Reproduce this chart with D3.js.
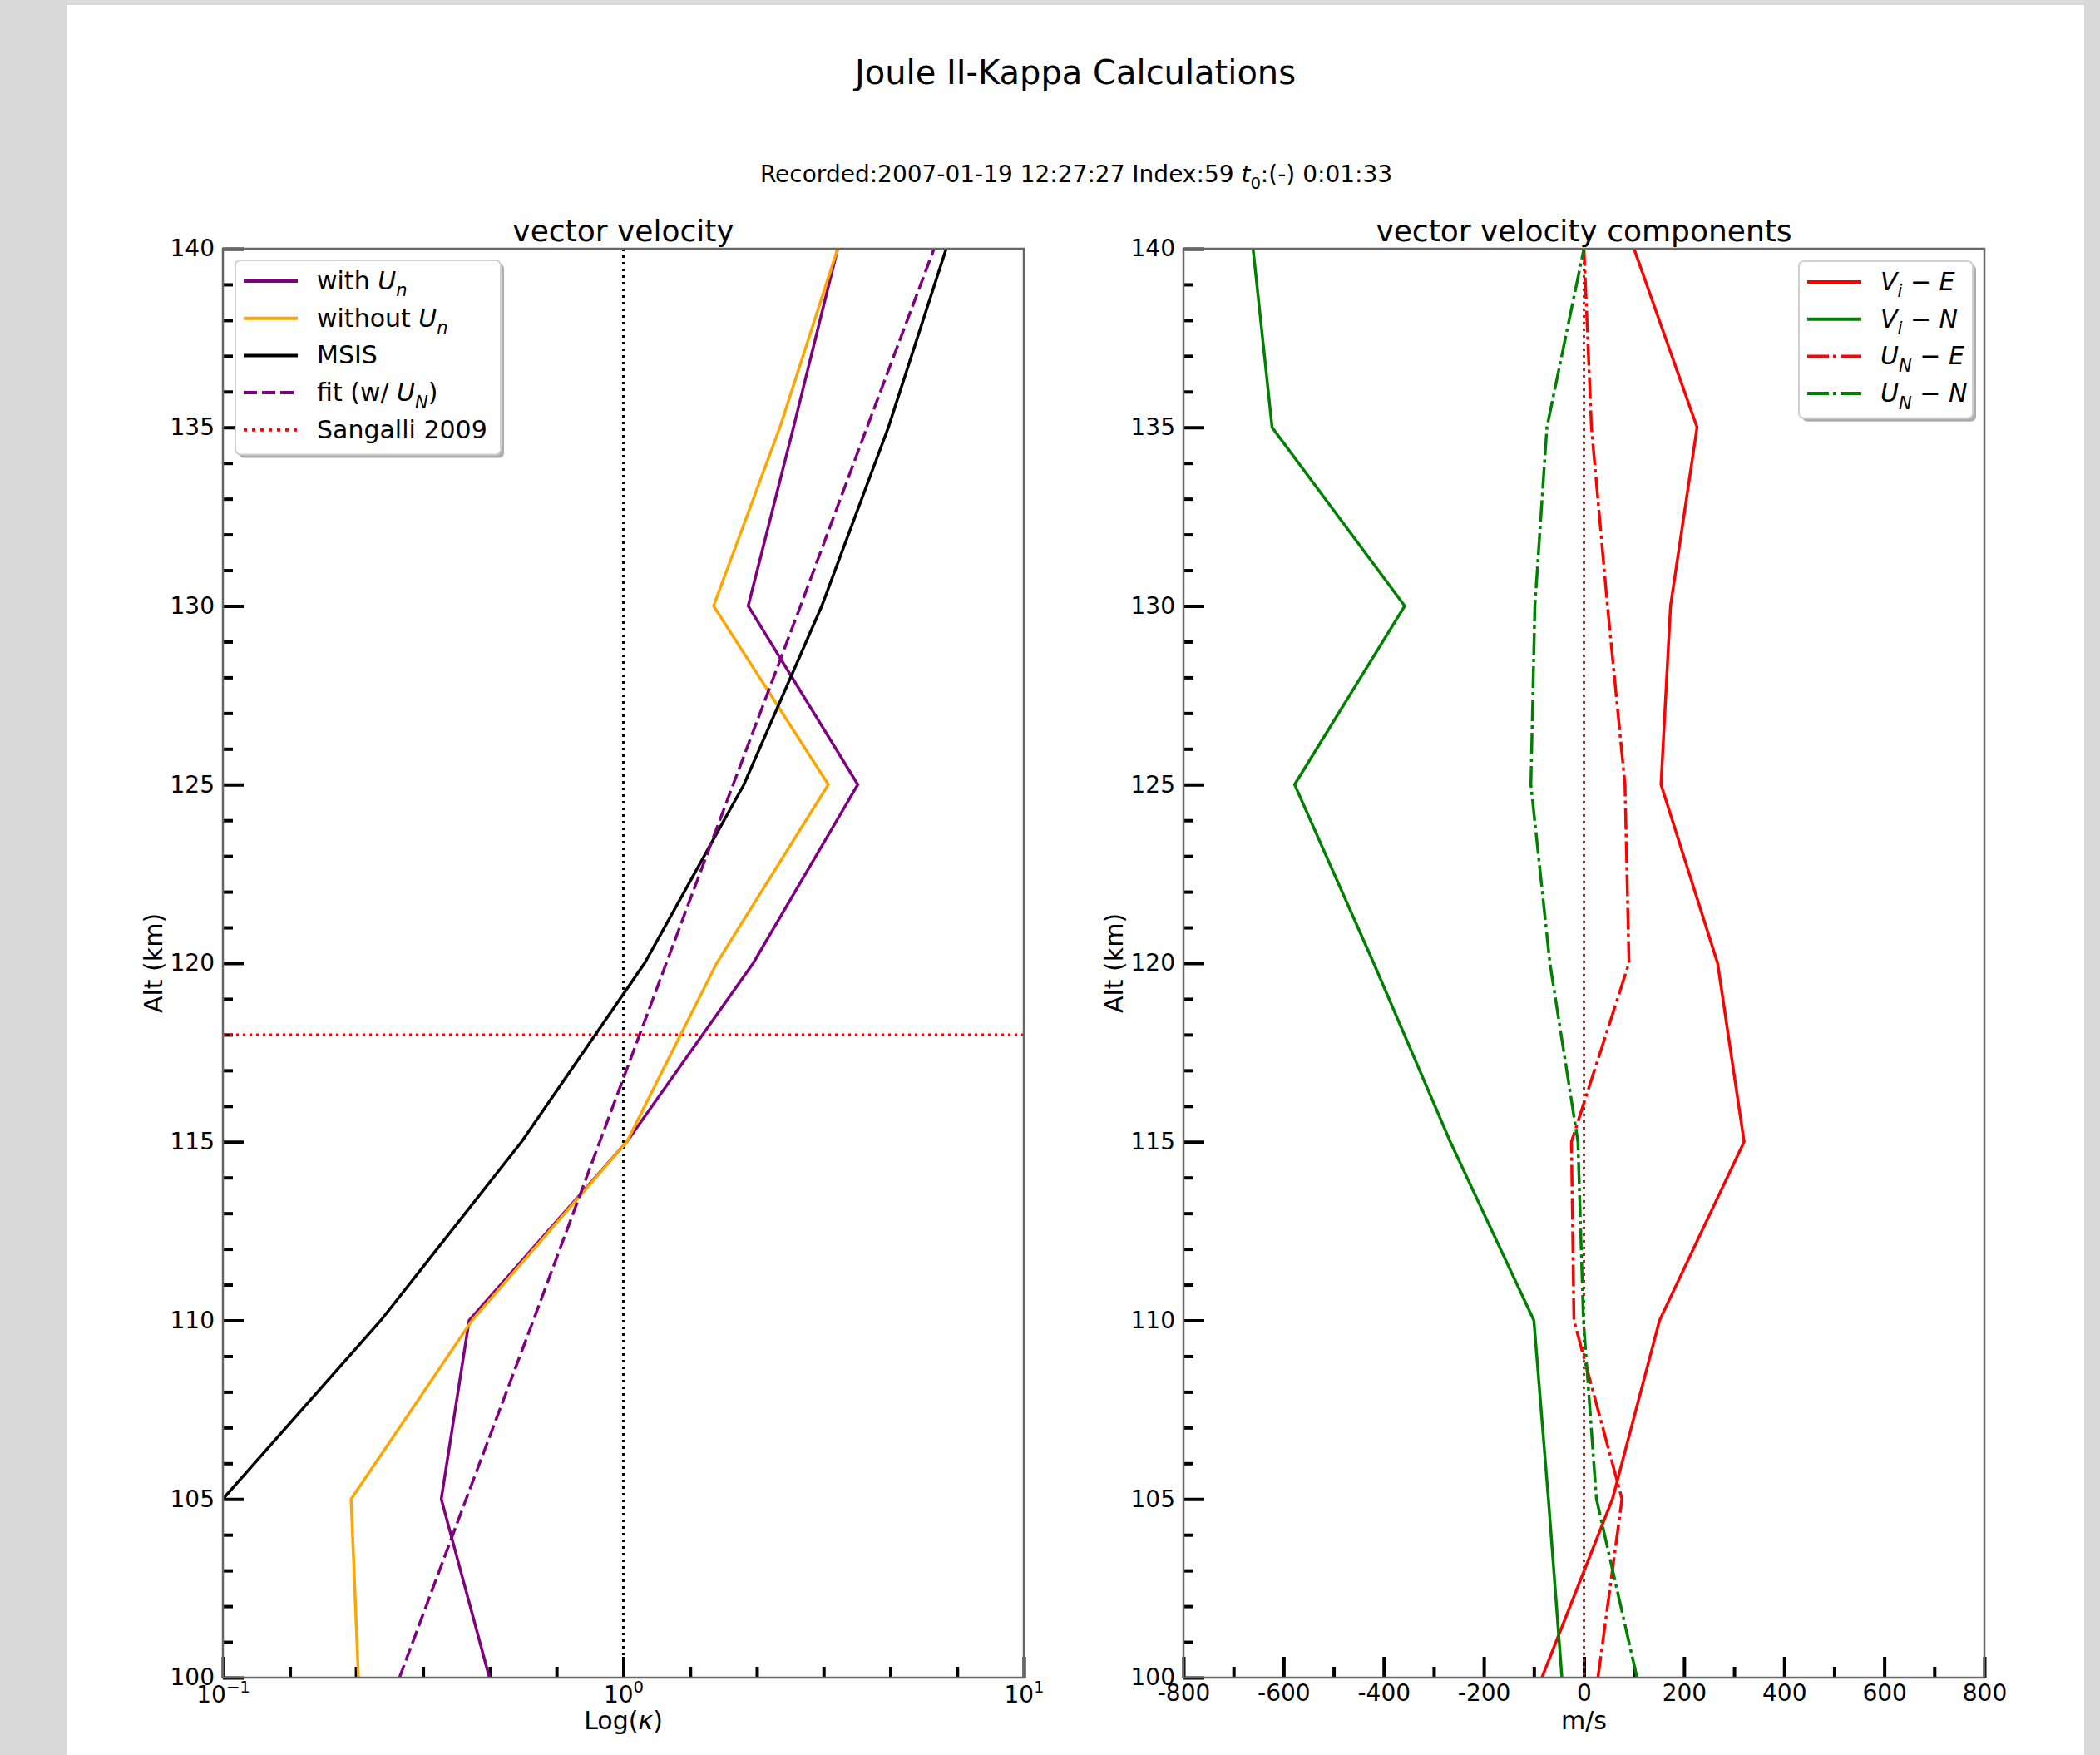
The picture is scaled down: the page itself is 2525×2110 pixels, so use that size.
<!DOCTYPE html>
<html>
<head>
<meta charset="utf-8">
<script src="https://cdn.jsdelivr.net/npm/d3@7"></script>
<style>
body { margin: 0; background: #d9d9d9; }
text { font-family: "DejaVu Sans", sans-serif; fill: #000; }
</style>
</head>
<body>
<svg id="fig" width="2525" height="2110"></svg>
<script>
// altitudes (km) for every profile
var alt = [100, 105, 110, 115, 120, 125, 130, 135, 140];

// left panel: kappa profiles
var kappaWithUn    = [0.463, 0.351, 0.412, 1.02, 2.11, 3.85, 2.05, 2.66, 3.43];
var kappaWithoutUn = [0.218, 0.209, 0.419, 1.02, 1.71, 3.25, 1.68, 2.46, 3.43];
var kappaMsis      = [0.04, 0.100, 0.248, 0.557, 1.13, 2.00, 3.13, 4.59, 6.40];
var kappaFit       = [0.276, 0.405, 0.596, 0.873, 1.28, 1.88, 2.77, 4.06, 5.97];
var sangalliAlt = 118;
var kappaRef = 1;

// right panel: velocity components (m/s)
var viE = [-84, 57, 151, 320, 267, 154, 173, 226, 100];
var viN = [-44, -71, -100, -267, -420, -578, -358, -623, -661];
var unE = [28, 76, -20, -25, 90, 82, 47, 15, 0];
var unN = [106, 25, -1, -12, -68, -106, -98, -74, 0];

// ticks
var altMajor = [100, 105, 110, 115, 120, 125, 130, 135, 140];
var altMinor = d3.range(100, 141).filter(function(d) { return d % 5 != 0; });
var kMajor = [0.1, 1, 10];
var kMajorLabels = [["10", "\u22121"], ["10", "0"], ["10", "1"]];
var kMinor = [0.147, 0.215, 0.316, 0.464, 0.681, 1.468, 2.154, 3.162, 4.642, 6.813];
var vMajor = [-800, -600, -400, -200, 0, 200, 400, 600, 800];
var vMinor = [-700, -500, -300, -100, 100, 300, 500, 700];

var svg = d3.select("#fig");

// write text made of plain / italic / sub / sup parts
function richText(sel, parts, size) {
  var shift = 0;
  parts.forEach(function(p) {
    var ts = sel.append("tspan").text(p.t);
    if (p.i) ts.attr("font-style", "italic");
    var target = p.sub ? size * 0.28 : (p.sup ? -size * 0.42 : 0);
    if (target != shift) { ts.attr("dy", target - shift); shift = target; }
    if (p.sub || p.sup) ts.attr("font-size", size * 0.7);
  });
}

// figure background
svg.append("rect")
  .attr("x", 80).attr("y", 6)
  .attr("width", 2426).attr("height", 2104)
  .attr("fill", "#fff");

svg.append("text")
  .attr("x", 1293).attr("y", 101)
  .attr("text-anchor", "middle")
  .attr("font-size", 40)
  .text("Joule II-Kappa Calculations");

var sub = svg.append("text")
  .attr("x", 1294).attr("y", 219)
  .attr("text-anchor", "middle")
  .attr("font-size", 28);
richText(sub, [{t: "Recorded:2007-01-19 12:27:27 Index:59 "}, {t: "t", i: 1}, {t: "0", sub: 1}, {t: ":(-) 0:01:33"}], 28);

var plotTop = 299, plotBot = 2017;
var y = d3.scaleLinear().domain([100, 140]).range([plotBot, plotTop]);

function panel(id, x0, x1, title) {
  var g = svg.append("g");
  g.append("clipPath").attr("id", "clip" + id)
    .append("rect").attr("x", x0).attr("y", plotTop)
    .attr("width", x1 - x0).attr("height", plotBot - plotTop);

  // y ticks (inward)
  var yMaj = g.append("g").attr("transform", "translate(" + x0 + ",0)")
    .call(d3.axisLeft(y).tickValues(altMajor).tickSizeInner(-25).tickSizeOuter(0).tickPadding(10).tickFormat(d3.format("d")));
  var yMin = g.append("g").attr("transform", "translate(" + x0 + ",0)")
    .call(d3.axisLeft(y).tickValues(altMinor).tickSizeInner(-12).tickSizeOuter(0).tickFormat(""));
  [yMaj, yMin].forEach(function(a) {
    a.select(".domain").remove();
    a.selectAll("line").attr("stroke", "#000").attr("stroke-width", 4);
    a.selectAll("text").attr("font-size", 28).attr("font-family", "DejaVu Sans").attr("fill", "#000");
  });

  g.append("text")
    .attr("transform", "translate(" + (x0 - 73) + "," + ((plotTop + plotBot) / 2) + ") rotate(-90)")
    .attr("text-anchor", "middle")
    .attr("font-size", 30)
    .text("Alt (km)");

  var t = g.append("text")
    .attr("x", (x0 + x1) / 2).attr("y", 2079)
    .attr("text-anchor", "middle")
    .attr("font-size", 30);

  g.append("text")
    .attr("x", (x0 + x1) / 2).attr("y", 290)
    .attr("text-anchor", "middle")
    .attr("font-size", 36)
    .text(title);

  return {g: g, xlabel: t, clip: "url(#clip" + id + ")"};
}

function spines(g, x0, x1) {
  g.append("rect")
    .attr("x", x0).attr("y", plotTop)
    .attr("width", x1 - x0).attr("height", plotBot - plotTop)
    .attr("fill", "none")
    .attr("stroke", "#666")
    .attr("stroke-width", 2.5);
}

function xTicks(g, x, major, minor, fmt) {
  var xMaj = g.append("g").attr("transform", "translate(0," + plotBot + ")")
    .call(d3.axisBottom(x).tickValues(major).tickSizeInner(-25).tickSizeOuter(0).tickPadding(8).tickFormat(fmt));
  var xMin = g.append("g").attr("transform", "translate(0," + plotBot + ")")
    .call(d3.axisBottom(x).tickValues(minor).tickSizeInner(-13).tickSizeOuter(0).tickFormat(""));
  [xMaj, xMin].forEach(function(a) {
    a.select(".domain").remove();
    a.selectAll("line").attr("stroke", "#000").attr("stroke-width", 4);
    a.selectAll("text").attr("font-size", 28).attr("font-family", "DejaVu Sans").attr("fill", "#000");
  });
  return xMaj;
}

function legend(g, x, yTop, w, rows) {
  var h = rows.length * 44.7 + 10;
  g.append("rect")
    .attr("x", x + 4).attr("y", yTop + 4)
    .attr("width", w).attr("height", h)
    .attr("rx", 6).attr("fill", "#8a8a8a").attr("opacity", 0.7);
  g.append("rect")
    .attr("x", x).attr("y", yTop)
    .attr("width", w).attr("height", h)
    .attr("rx", 6).attr("fill", "#fff").attr("stroke", "#d0d0d0").attr("stroke-width", 2);
  rows.forEach(function(r, i) {
    var cy = yTop + 25 + i * 44.7;
    g.append("line")
      .attr("x1", x + 10).attr("x2", x + 75)
      .attr("y1", cy).attr("y2", cy)
      .attr("stroke", r.color).attr("stroke-width", 4)
      .attr("stroke-dasharray", r.dash || null);
    var t = g.append("text")
      .attr("x", x + 98).attr("y", cy + 10)
      .attr("font-size", 30);
    richText(t, r.label, 30);
  });
}

// ---------- left panel ----------
var L0 = 268, L1 = 1231;
var xk = d3.scaleLog().domain([0.1, 10]).range([L0, L1]);
var left = panel("L", L0, L1, "vector velocity");
richText(left.xlabel, [{t: "Log("}, {t: "\u03BA", i: 1}, {t: ")"}], 30);

var kAxis = xTicks(left.g, xk, kMajor, kMinor, function() { return ""; });
kAxis.selectAll(".tick text").each(function(d, i) {
  var el = d3.select(this).text(null).attr("dy", null).attr("y", 30);
  richText(el, [{t: kMajorLabels[i][0]}, {t: kMajorLabels[i][1], sup: 1}], 28);
});

var lineK = function(vals) {
  return d3.line().x(function(d) { return xk(d); }).y(function(d, i) { return y(alt[i]); })(vals);
};

var lp = left.g.append("g").attr("clip-path", left.clip);
lp.append("line")
  .attr("x1", xk(kappaRef)).attr("x2", xk(kappaRef))
  .attr("y1", plotTop).attr("y2", plotBot)
  .attr("stroke", "#000").attr("stroke-width", 3).attr("stroke-dasharray", "3,5");
lp.append("line")
  .attr("x1", L0).attr("x2", L1)
  .attr("y1", y(sangalliAlt)).attr("y2", y(sangalliAlt))
  .attr("stroke", "red").attr("stroke-width", 3).attr("stroke-dasharray", "3,5");

[[kappaWithUn, "purple", null], [kappaWithoutUn, "orange", null], [kappaMsis, "black", null], [kappaFit, "purple", "16,6"]]
  .forEach(function(s) {
    lp.append("path")
      .attr("d", lineK(s[0]))
      .attr("fill", "none")
      .attr("stroke", s[1])
      .attr("stroke-width", 3.5)
      .attr("stroke-dasharray", s[2]);
  });
spines(left.g, L0, L1);

legend(left.g, 283, 313, 319, [
  {color: "purple", label: [{t: "with "}, {t: "U", i: 1}, {t: "n", i: 1, sub: 1}]},
  {color: "orange", label: [{t: "without "}, {t: "U", i: 1}, {t: "n", i: 1, sub: 1}]},
  {color: "black", label: [{t: "MSIS"}]},
  {color: "purple", dash: "16,6", label: [{t: "fit (w/ "}, {t: "U", i: 1}, {t: "N", i: 1, sub: 1}, {t: ")"}]},
  {color: "red", dash: "4,6", label: [{t: "Sangalli 2009"}]}
]);

// ---------- right panel ----------
var R0 = 1423, R1 = 2386;
var xv = d3.scaleLinear().domain([-800, 800]).range([R0, R1]);
var right = panel("R", R0, R1, "vector velocity components");
right.xlabel.text("m/s");
xTicks(right.g, xv, vMajor, vMinor, function(d) { return String(d); });

var lineV = function(vals) {
  return d3.line().x(function(d) { return xv(d); }).y(function(d, i) { return y(alt[i]); })(vals);
};

var rp = right.g.append("g").attr("clip-path", right.clip);
rp.append("line")
  .attr("x1", xv(0)).attr("x2", xv(0))
  .attr("y1", plotTop).attr("y2", plotBot)
  .attr("stroke", "red").attr("stroke-width", 3).attr("stroke-dasharray", "3,5");

[[viE, "red", null], [viN, "green", null], [unE, "red", "26,5,4,5"], [unN, "green", "26,5,4,5"]]
  .forEach(function(s) {
    rp.append("path")
      .attr("d", lineV(s[0]))
      .attr("fill", "none")
      .attr("stroke", s[1])
      .attr("stroke-width", 3.5)
      .attr("stroke-dasharray", s[2]);
  });
spines(right.g, R0, R1);

legend(right.g, 2163, 314, 209, [
  {color: "red", label: [{t: "V", i: 1}, {t: "i", i: 1, sub: 1}, {t: " \u2212 "}, {t: "E", i: 1}]},
  {color: "green", label: [{t: "V", i: 1}, {t: "i", i: 1, sub: 1}, {t: " \u2212 "}, {t: "N", i: 1}]},
  {color: "red", dash: "26,5,4,5", label: [{t: "U", i: 1}, {t: "N", i: 1, sub: 1}, {t: " \u2212 "}, {t: "E", i: 1}]},
  {color: "green", dash: "26,5,4,5", label: [{t: "U", i: 1}, {t: "N", i: 1, sub: 1}, {t: " \u2212 "}, {t: "N", i: 1}]}
]);
</script>
</body>
</html>
